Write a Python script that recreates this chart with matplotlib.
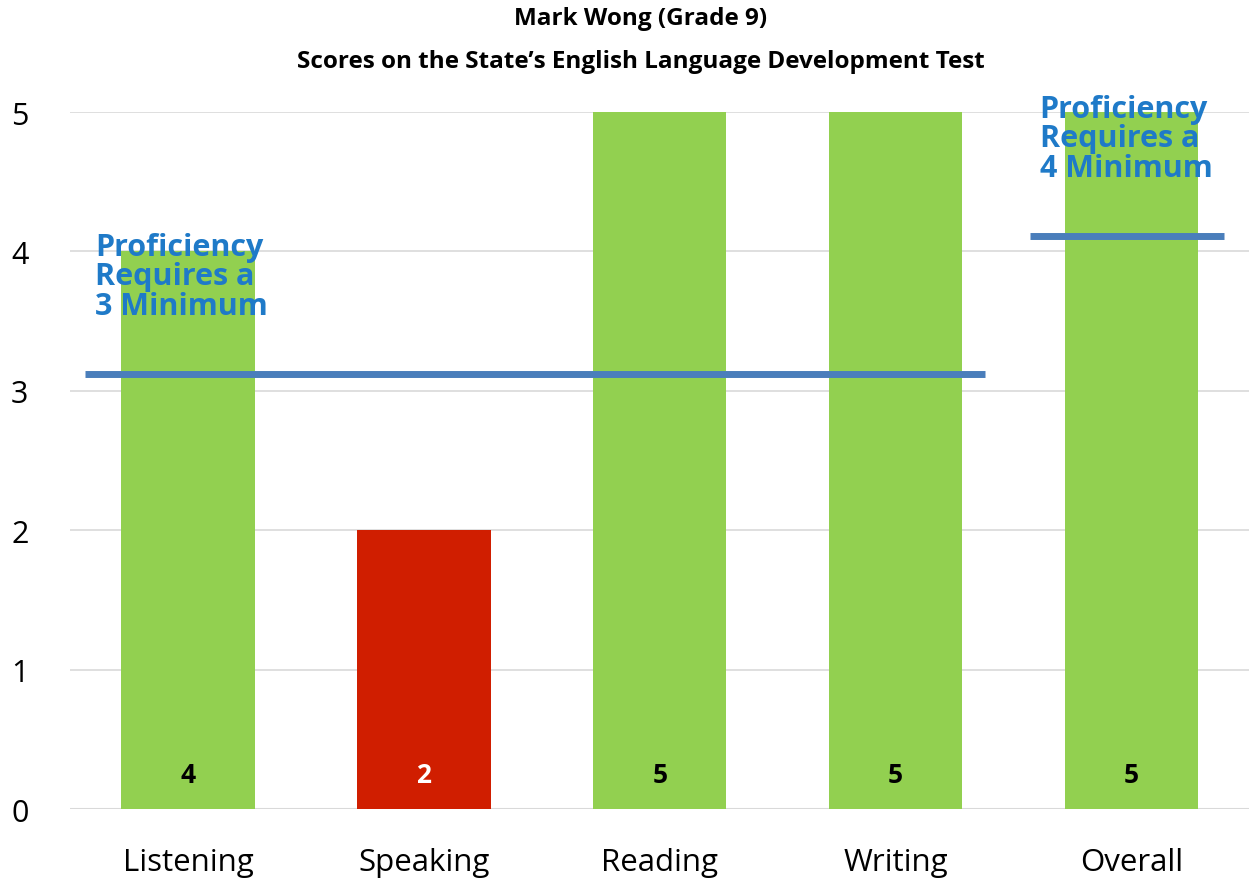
import matplotlib.pyplot as plt

categories = ["Listening", "Speaking", "Reading", "Writing", "Overall"]
scores = [4, 2, 5, 5, 5]
bar_colors = ["#92d050", "#d01e00", "#92d050", "#92d050", "#92d050"]
label_colors = ["black", "white", "black", "black", "black"]

# proficiency cut lines as drawn in the chart
domain_cut = 3.12
overall_cut = 4.11

plt.rcParams["font.family"] = ["Open Sans", "DejaVu Sans"]

fig = plt.figure(figsize=(12.52, 8.87), dpi=100)
ax = fig.add_axes([0.056, 0.0868, 0.942, 0.7858])

x = list(range(len(categories)))
ax.bar(x, scores, width=0.565, color=bar_colors, zorder=2)
for xi, s, c in zip(x, scores, label_colors):
    ax.text(xi, 0.25, str(s), ha="center", va="center", fontsize=19,
            fontweight="bold", color=c, zorder=4)

# threshold lines
ax.plot([-0.436, 3.377], [domain_cut, domain_cut], color="#4a7ebb", lw=5,
        solid_capstyle="butt", zorder=3)
ax.plot([3.57, 4.39], [overall_cut, overall_cut], color="#4a7ebb", lw=5,
        solid_capstyle="butt", zorder=3)

note_kw = dict(fontsize=22, fontweight="bold", color="#1f7ac8", va="top",
               ha="left", linespacing=0.97, zorder=4, clip_on=False)
ax.text(-0.395, 4.14, "Proficiency\nRequires a\n3 Minimum", **note_kw)
ax.text(3.61, 5.13, "Proficiency\nRequires a\n4 Minimum", **note_kw)

ax.set_xlim(-0.5, 4.5)
ax.set_ylim(0, 5)
ax.set_yticks(range(6))
ax.yaxis.grid(True, color="#d9d9d9", lw=1.2, zorder=0)
ax.set_axisbelow(True)
for side in ["top", "right", "left", "bottom"]:
    ax.spines[side].set_visible(False)
ax.axhline(0, color="#d9d9d9", lw=1.5, zorder=1)
ax.tick_params(length=0)
ax.tick_params(axis="y", labelsize=22, pad=30)
ax.tick_params(axis="x", labelsize=22.5, pad=27)
ax.set_xticks(x)
ax.set_xticklabels(categories)

fig.text(0.512, 0.979, "Mark Wong (Grade 9)", ha="center", va="center",
         fontsize=17.5, fontweight="bold")
fig.text(0.512, 0.93, "Scores on the State\u2019s English Language Development Test",
         ha="center", va="center", fontsize=17.5, fontweight="bold")

fig.savefig("out.png", dpi=100)
plt.close(fig)
